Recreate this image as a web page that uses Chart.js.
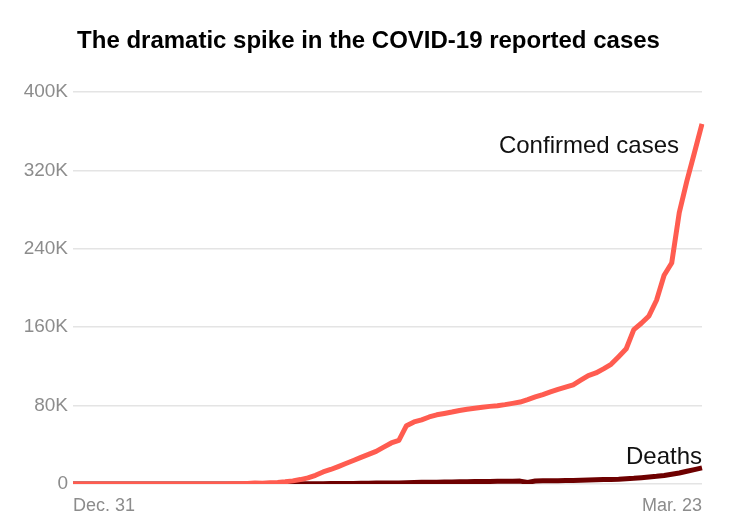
<!DOCTYPE html>
<html>
<head>
<meta charset="utf-8">
<script src="https://cdn.jsdelivr.net/npm/chart.js@4"></script>
<style>
  html, body { margin: 0; padding: 0; background: #fff; }
  #wrap { width: 729px; height: 525px; position: relative; }
</style>
</head>
<body>
<div id="wrap"><canvas id="c" width="729" height="525"></canvas></div>
<script>
// Dates Dec 31 .. Mar 23 (84 days)
const dates = (function () {
  const out = [];
  out.push("Dec. 31");
  for (let d = 1; d <= 31; d++) out.push("Jan. " + d);
  for (let d = 1; d <= 29; d++) out.push("Feb. " + d);
  for (let d = 1; d <= 23; d++) out.push("Mar. " + d);
  return out;
})();

const confirmed = [
  27, 27, 27, 44, 44, 59, 59, 59, 59, 59,
  59, 59, 59, 60, 60, 60, 60, 60, 60, 60,
  100, 200, 300, 600, 900, 700, 1200, 1600, 2300, 3200,
  4500, 6300, 8900, 12300, 14800, 17800, 20900, 24000, 27200, 30200,
  33300, 37700, 41900, 44600, 59500, 63300, 65500, 68400, 70600, 72000,
  73400, 75000, 76200, 77200, 78300, 79200, 79900, 81000, 82300, 83600,
  86100, 88800, 91300, 94000, 96500, 98800, 101200, 105900, 110700, 113300,
  117500, 122100, 129900, 138000, 157500, 164000, 171500, 187500, 213000, 225500,
  277000, 309000, 338000, 367500
];

const deaths = [
  0, 0, 0, 0, 0, 0, 0, 0, 0, 0,
  1, 1, 1, 1, 1, 1, 2, 2, 3, 3,
  6, 9, 17, 18, 26, 42, 56, 82, 131, 133,
  171, 213, 259, 362, 426, 492, 564, 634, 719, 806,
  906, 1013, 1113, 1118, 1371, 1523, 1666, 1770, 1868, 2007,
  2122, 2247, 2251, 2458, 2469, 2629, 2708, 2770, 2814, 2970,
  1600, 3100, 3200, 3300, 3380, 3460, 3560, 3800, 3990, 4260,
  4600, 4700, 4900, 5400, 5800, 6400, 7100, 7800, 8700, 9900,
  11200, 13000, 14700, 16500
];

const yTicks = [0, 80000, 160000, 240000, 320000, 400000];
const yTickLabels = ["0", "80K", "160K", "240K", "320K", "400K"];
const seriesNames = ["Confirmed cases", "Deaths"];
const titleText = "The dramatic spike in the COVID-19 reported cases";

const RED = "#ff5c50";
const DARK = "#6e0000";

const labelPlugin = {
  id: "seriesLabels",
  afterDatasetsDraw(chart) {
    const ctx = chart.ctx;
    const x = chart.scales.x, y = chart.scales.y;
    const last = dates.length - 1;
    ctx.save();
    ctx.fillStyle = "#111";
    ctx.font = "400 24px 'Liberation Sans', Arial, sans-serif";
    ctx.textAlign = "right";
    ctx.textBaseline = "alphabetic";
    ctx.fillText(seriesNames[0], x.getPixelForValue(last) - 23, y.getPixelForValue(confirmed[last]) + 29);
    ctx.fillText(seriesNames[1], x.getPixelForValue(last), y.getPixelForValue(deaths[last]) - 4);
    // title
    ctx.fillStyle = "#000";
    ctx.font = "bold 24px 'Liberation Sans', Arial, sans-serif";
    ctx.textAlign = "center";
    ctx.textBaseline = "middle";
    ctx.fillText(titleText, chart.width / 2 + 4, 41);
    ctx.restore();
  }
};

new Chart(document.getElementById("c"), {
  type: "line",
  data: {
    labels: dates,
    datasets: [
      { label: seriesNames[0], data: confirmed, borderColor: RED, backgroundColor: RED,
        borderWidth: 5, pointRadius: 0, tension: 0, borderJoinStyle: "round", borderCapStyle: "butt" },
      { label: seriesNames[1], data: deaths, borderColor: DARK, backgroundColor: DARK,
        borderWidth: 5, pointRadius: 0, tension: 0, borderJoinStyle: "round", borderCapStyle: "butt" }
    ]
  },
  options: {
    responsive: false,
    animation: false,
    devicePixelRatio: 1,
    layout: { padding: { left: 0, right: 27, top: 92, bottom: 0 } },
    plugins: {
      legend: { display: false },
      tooltip: { enabled: false },
      title: { display: false }
    },
    scales: {
      x: {
        type: "category",
        grid: { display: false, drawTicks: false },
        border: { display: false },
        afterFit(s) { s.height = 41; },
        ticks: {
          autoSkip: false,
          maxRotation: 0,
          minRotation: 0,
          align: "inner",
          padding: 11,
          color: "#8c8c8c",
          font: { family: "'Liberation Sans', Arial, sans-serif", size: 18 },
          callback(v, i) { return (i === 0 || i === dates.length - 1) ? dates[i] : ""; }
        }
      },
      y: {
        min: 0,
        max: 400000,
        afterBuildTicks(s) { s.ticks = yTicks.map(v => ({ value: v })); },
        afterFit(s) { s.width = 73; },
        grid: { color: "#e4e4e4", lineWidth: 1.5, drawTicks: false },
        border: { display: false },
        ticks: {
          padding: 5,
          color: "#8c8c8c",
          font: { family: "'Liberation Sans', Arial, sans-serif", size: 19 },
          callback(v) { const i = yTicks.indexOf(v); return i >= 0 ? yTickLabels[i] : ""; }
        }
      }
    }
  },
  plugins: [labelPlugin]
});
</script>
</body>
</html>
